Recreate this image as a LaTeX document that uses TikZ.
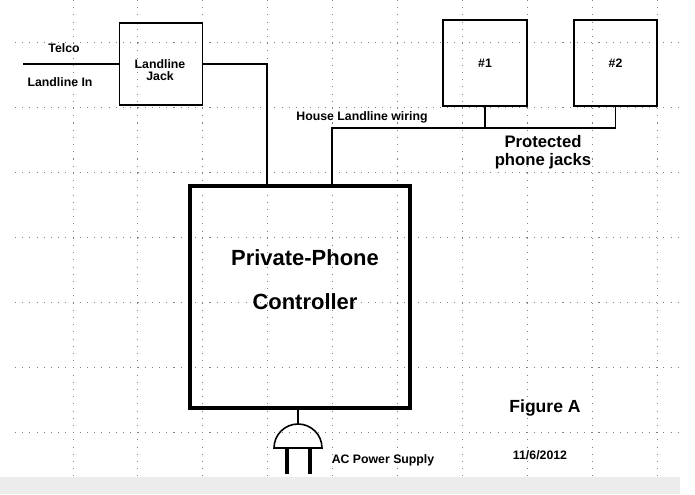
\documentclass[tikz,border=0pt]{standalone}
\usepackage{fontspec}
\setmainfont{Liberation Sans}
\usetikzlibrary{positioning}
\tikzset{
  wire/.style={black, line width=0.9pt},
  jack/.style={draw, line width=0.9pt, minimum width=1.66cm, minimum height=1.64cm, inner sep=0pt},
  lbl/.style={font=\fontsize{7}{8}\selectfont\bfseries, align=center},
}
\begin{document}
\begin{tikzpicture}[x=0.02cm, y=-0.02cm]
  \useasboundingbox (0,0) rectangle (695,494);
  % grid
  \fill[gray!15] (0,477) rectangle (680,494);
  \foreach \gx in {73,137,202,267,332,397,462,527,592,657}
    \draw[gray, line width=0.5pt, dash pattern=on 0.6pt off 3.5pt] (\gx,0) -- (\gx,477);
  \foreach \gy in {42,107,172,237,302,367,432}
    \draw[gray, line width=0.5pt, dash pattern=on 0.6pt off 3.5pt] (15,\gy) -- (680,\gy);

  % boxes
  \node[jack] (ljack) at (161,64) {};
  \node[lbl] at (160,70) {Landline\\[-1pt]Jack};
  \node[jack, lbl, minimum width=1.68cm, minimum height=1.72cm] (j1) at (485,63) {\#1};
  \node[jack, lbl, minimum width=1.66cm, minimum height=1.72cm] (j2) at (615.5,63) {\#2};
  \node[draw, line width=2.6pt, minimum width=4.4cm, minimum height=4.44cm] (ctrl) at (300,297) {};
  \node[font=\fontsize{12.5}{14}\selectfont\bfseries] at (305,258) {Private-Phone};
  \node[font=\fontsize{12.5}{14}\selectfont\bfseries] at (305,302) {Controller};

  % wiring
  \coordinate (telco) at (23,64);
  \coordinate (hw) at (332,128);
  \draw[wire] (telco) -- (ljack.west);
  \draw[wire] (ljack.east) -| (ctrl.north -| 267,0);
  \draw[wire] (ctrl.north -| hw) -- (hw) -- (hw -| j2.south) -- (j2.south);
  \draw[wire] (hw -| j1.south) -- (j1.south);

  % labels
  \node[lbl] at (64,48) {Telco};
  \node[lbl] at (60,82) {Landline In};
  \node[lbl] at (362,117) {House Landline wiring};
  \node[font=\fontsize{9.5}{10.5}\selectfont\bfseries, align=center] at (543,152) {Protected\\phone jacks};
  \node[font=\fontsize{10}{11}\selectfont\bfseries] at (545,408) {Figure A};
  \node[lbl] at (540,455) {11/6/2012};
  \node[lbl] at (383,460) {AC Power Supply};

  % power plug
  \coordinate (plug) at (298,424);
  \draw[wire] (ctrl.south -| plug) -- (plug);
  \draw[wire] (274,448) arc[start angle=180, end angle=360, radius=24] -- cycle;
  \draw[line width=2pt] (287,448) -- (287,474);
  \draw[line width=2pt] (310,448) -- (310,474);
\end{tikzpicture}
\end{document}
